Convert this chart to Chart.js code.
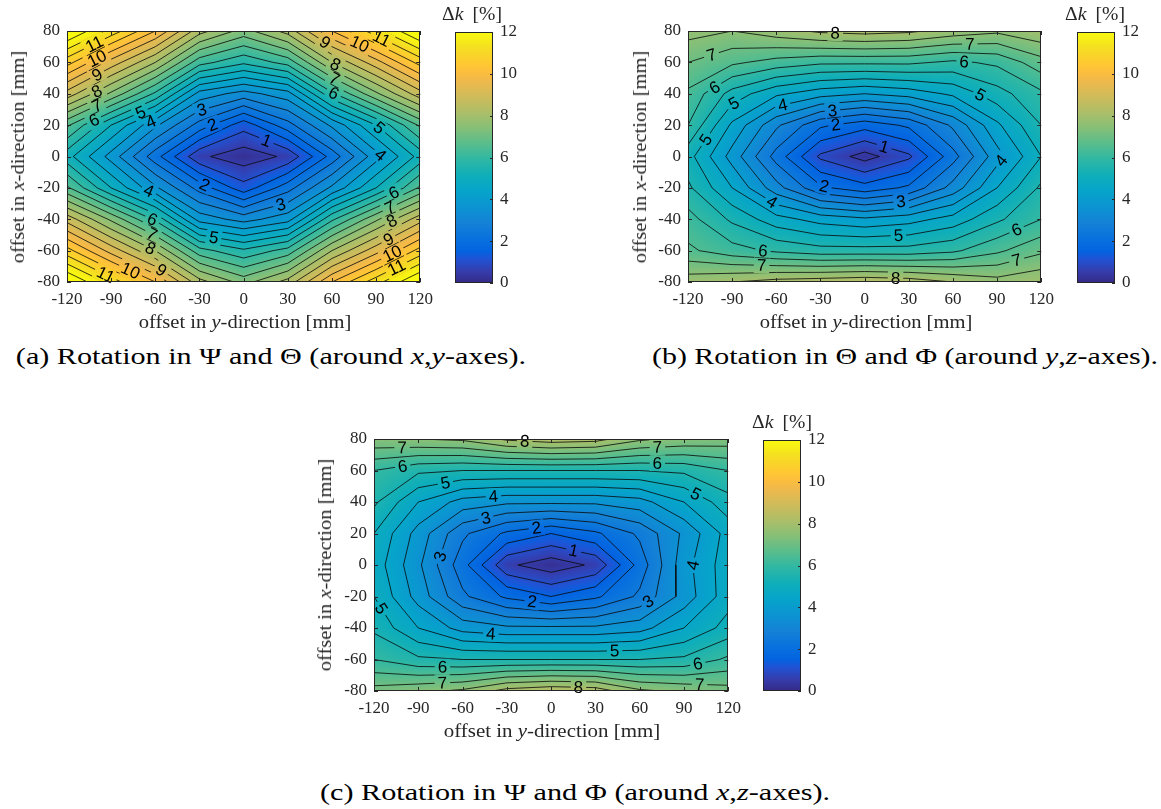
<!DOCTYPE html>
<html>
<head>
<meta charset="utf-8">
<script src="https://cdn.jsdelivr.net/npm/chart.js@4.4.1/dist/chart.umd.min.js"></script>
<style>
  body { margin: 0; background: #fff; width: 1161px; height: 809px; position: relative; overflow: hidden; font-family: "Liberation Serif", serif; }
  canvas { position: absolute; display: block; }
  .txt { position: absolute; white-space: nowrap; color: #262626; font-size: 19px; transform: translate(-50%, -50%); }
  .cb { font-size: 19px; word-spacing: 4px; }
  .cap { position: absolute; white-space: nowrap; color: #000; font-size: 24px; transform: translate(-50%, -50%); }
</style>
</head>
<body>

<canvas id="plotA" width="440" height="340" style="left:0px;top:0px"></canvas>
<canvas id="barA" width="90" height="291" style="left:445px;top:12px"></canvas>
<canvas id="plotB" width="440" height="340" style="left:621px;top:0px"></canvas>
<canvas id="barB" width="90" height="291" style="left:1067px;top:12px"></canvas>
<canvas id="plotC" width="441" height="341" style="left:307px;top:408px"></canvas>
<canvas id="barC" width="90" height="291" style="left:753px;top:420px"></canvas>

<div class="txt" data-w="212" style="left:245px;top:322px">offset in <i>y</i>-direction [mm]</div>
<div class="txt" data-w="212" data-rot="1" style="left:18px;top:157px">offset in <i>x</i>-direction [mm]</div>
<div class="txt cb" data-w="60" style="left:472px;top:14px">Δ<i>k</i> [%]</div>
<div class="txt" data-w="212" style="left:866px;top:322px">offset in <i>y</i>-direction [mm]</div>
<div class="txt" data-w="212" data-rot="1" style="left:640px;top:157px">offset in <i>x</i>-direction [mm]</div>
<div class="txt cb" data-w="60" style="left:1095px;top:14px">Δ<i>k</i> [%]</div>
<div class="txt" data-w="216" style="left:552px;top:731px">offset in <i>y</i>-direction [mm]</div>
<div class="txt" data-w="212" data-rot="1" style="left:325px;top:565px">offset in <i>x</i>-direction [mm]</div>
<div class="txt cb" data-w="60" style="left:782px;top:422px">Δ<i>k</i> [%]</div>

<div class="cap" data-w="510" style="left:271px;top:356px">(a) Rotation in Ψ and Θ (around <i>x</i>,<i>y</i>-axes).</div>
<div class="cap" data-w="506" style="left:905px;top:356px">(b) Rotation in Θ and Φ (around <i>y</i>,<i>z</i>-axes).</div>
<div class="cap" data-w="510" style="left:575px;top:792px">(c) Rotation in Ψ and Φ (around <i>x</i>,<i>z</i>-axes).</div>

<script>
// grid of the measurement: columns = offset in y, rows = offset in x (top row first)
const yOffsets = [-120, -90, -60, -30, 0, 30, 60, 90, 120];
const xOffsets = [80, 60, 40, 20, 0, -20, -40, -60, -80];

const yTicks = [-120, -90, -60, -30, 0, 30, 60, 90, 120];
const xTicks = [-80, -60, -40, -20, 0, 20, 40, 60, 80];
const cbarTicks = [0, 2, 4, 6, 8, 10, 12];
const contourLevels = [0.5, 1, 1.5, 2, 2.5, 3, 3.5, 4, 4.5, 5, 5.5, 6, 6.5, 7, 7.5, 8, 8.5, 9, 9.5, 10, 10.5, 11, 11.5, 12];

// Δk [%] for rotation in Psi and Theta
const dkA = [
  [12.6, 11.3, 10.0, 8.2, 7.3, 8.2, 10.0, 11.3, 12.6],
  [10.7,  9.3,  8.0, 6.2, 5.6, 6.2,  8.0,  9.3, 10.7],
  [ 8.8,  7.4,  5.9, 3.8, 3.3, 3.8,  5.9,  7.4,  8.8],
  [ 6.6,  5.0,  3.6, 2.3, 1.2, 2.3,  3.6,  5.0,  6.6],
  [ 5.2,  3.8,  2.2, 0.6, 0.2, 0.6,  2.2,  3.8,  5.2],
  [ 6.6,  5.0,  3.6, 2.3, 1.2, 2.3,  3.6,  5.0,  6.6],
  [ 8.8,  7.4,  5.9, 3.8, 3.3, 3.8,  5.9,  7.4,  8.8],
  [10.7,  9.3,  8.0, 6.2, 5.6, 6.2,  8.0,  9.3, 10.7],
  [12.6, 11.3, 10.0, 8.2, 7.3, 8.2, 10.0, 11.3, 12.6]
];

// Δk [%] for rotation in Theta and Phi
const dkB = [
  [7.7, 7.5, 7.8, 8.1, 8.2, 8.1, 7.8, 7.6, 7.9],
  [7.0, 6.6, 6.3, 6.1, 6.1, 6.1, 5.9, 6.1, 6.8],
  [6.4, 5.3, 4.6, 4.2, 4.0, 4.2, 4.6, 5.3, 5.9],
  [6.0, 4.4, 3.1, 2.1, 1.7, 2.1, 3.1, 4.4, 5.5],
  [5.2, 3.8, 2.3, 0.9, 0.3, 0.9, 2.3, 3.8, 5.0],
  [5.6, 4.5, 3.2, 2.1, 1.7, 2.1, 3.2, 4.5, 5.6],
  [6.2, 5.4, 4.7, 4.3, 4.1, 4.3, 4.7, 5.4, 6.0],
  [6.6, 6.2, 5.9, 5.7, 5.7, 5.7, 5.9, 6.4, 6.9],
  [7.8, 8.0, 8.2, 8.3, 8.4, 8.3, 8.0, 7.7, 7.9]
];

// Δk [%] for rotation in Psi and Phi
const dkC = [
  [7.4, 7.5, 7.6, 8.1, 8.3, 8.2, 7.6, 7.4, 7.3],
  [6.0, 5.6, 5.5, 5.5, 5.5, 5.5, 5.5, 5.6, 6.0],
  [5.6, 4.5, 3.8, 3.6, 3.6, 3.6, 3.8, 4.5, 5.3],
  [5.0, 3.8, 2.6, 1.9, 1.5, 1.9, 2.6, 3.6, 4.7],
  [4.8, 3.6, 2.2, 0.6, 0.2, 0.6, 2.2, 3.8, 4.8],
  [5.0, 3.8, 2.6, 1.9, 1.5, 1.9, 2.6, 3.7, 4.8],
  [5.4, 4.5, 3.8, 3.6, 3.6, 3.6, 3.8, 4.5, 5.2],
  [6.0, 5.6, 5.5, 5.5, 5.5, 5.5, 5.5, 5.6, 6.1],
  [7.2, 7.4, 7.6, 8.2, 8.4, 8.3, 7.6, 7.4, 7.2]
];

// contour labels: [level, near y-offset, near x-offset]
const labelsA = [
  [11, -100, 69], [10, -100, 63], [9, -100, 53], [8, -100, 42], [7, -100, 33], [6, -101, 22],
  [5, -69, 26], [4, -63, 22], [3, -28, 28], [2, -21, 20], [1, 15, 9],
  [9, 54, 71], [10, 78, 70], [11, 92, 72], [8, 63, 60], [7, 62, 50], [6, 61, 40], [5, 90, 16], [4, 92, 0],
  [4, -64, -21], [2, -26, -17], [6, -62, -40], [7, -63, -51], [8, -64, -60], [9, -55, -71], [10, -76, -71], [11, -93, -74],
  [5, -20, -50], [3, 25, -30], [6, 101, -21], [7, 99, -32], [8, 100, -40], [9, 98, -52], [10, 100, -60], [11, 102, -67]
];
const labelsB = [
  [8, -20, 77], [7, -103, 61.5], [6, -103, 45.6], [5, -90, 36], [5, -110, 12], [4, -56, 34], [3, -22, 31], [2, -19.5, 20],
  [7, 71.5, 70], [6, 67.5, 59], [5, 79.6, 41], [1, 14, 8.6], [4, 92, -2],
  [2, -27.6, -19], [4, -65, -32], [6, -69, -60], [7, -70, -70],
  [3, 25, -32], [5, 23, -52], [8, 21, -77], [6, 102.5, -45], [7, 102.5, -63]
];
const labelsC = [
  [7, -101, 76], [8, -18, 76], [6, -101, 65], [5, -72, 54], [4, -39, 42.5], [3, -45, 33], [3, -74, 5], [2, -10, 23.5],
  [7, 72, 74], [6, 72, 65], [5, 100.5, 49.5], [1, 15, 8], [4, 94.5, 0],
  [5, -114, -27], [2, -13, -24], [3, 67, -25], [4, -41, -46], [5, 43, -54],
  [6, -73.6, -65], [6, 100.5, -68], [7, -73.6, -76], [7, 100.5, -77], [8, 18.5, -78]
];

// parula colormap, [t, r, g, b]
const parula = [
  [0, 53, 42, 135], [0.0476, 53, 61, 173], [0.0952, 32, 83, 212], [0.127, 3, 99, 225],
  [0.1746, 8, 113, 222], [0.238, 20, 129, 214], [0.3016, 12, 147, 210], [0.365, 6, 164, 202],
  [0.4286, 15, 174, 185], [0.492, 46, 183, 164], [0.5556, 89, 189, 140], [0.619, 135, 191, 119],
  [0.6825, 174, 190, 103], [0.746, 209, 187, 89], [0.8095, 241, 185, 74], [0.8413, 253, 190, 61],
  [0.873, 254, 200, 50], [0.9365, 245, 222, 33], [1, 249, 251, 14]
];
const CMAX = 12;
const axisColor = '#262626';
const tickFont = { family: 'Liberation Serif', size: 17 };
const labelFont = '17px "Liberation Sans", Arial, sans-serif';

// widen the serif texts a little so they take the width of the original typesetting
document.querySelectorAll('[data-w]').forEach(el => {
  const r = Math.max(1, +el.dataset.w / el.offsetWidth).toFixed(3);
  el.style.transform = el.dataset.rot
    ? `translate(-50%, -50%) rotate(-90deg) scaleX(${r})`
    : `translate(-50%, -50%) scaleX(${r})`;
});

function colorAt(v) {
  let t = Math.max(0, Math.min(1, v / CMAX));
  for (let i = 0; i < parula.length - 1; i++) {
    const a = parula[i], b = parula[i + 1];
    if (t <= b[0]) {
      const f = (t - a[0]) / (b[0] - a[0]);
      return [a[1] + f * (b[1] - a[1]), a[2] + f * (b[2] - a[2]), a[3] + f * (b[3] - a[3])];
    }
  }
  const l = parula[parula.length - 1];
  return [l[1], l[2], l[3]];
}

function locate(arr, v) {
  const lo = Math.min(arr[0], arr[arr.length - 1]), hi = Math.max(arr[0], arr[arr.length - 1]);
  v = Math.max(lo, Math.min(hi, v));
  for (let i = 0; i < arr.length - 2; i++) {
    const a = arr[i], b = arr[i + 1];
    if (v >= Math.min(a, b) && v <= Math.max(a, b)) return [i, (v - a) / (b - a)];
  }
  const n = arr.length - 2;
  return [n, (v - arr[n]) / (arr[n + 1] - arr[n])];
}

function sample(grid, yv, xv) {
  const [i, t] = locate(yOffsets, yv);
  const [j, u] = locate(xOffsets, xv);
  return (1 - t) * (1 - u) * grid[j][i] + t * (1 - u) * grid[j][i + 1] +
         (1 - t) * u * grid[j + 1][i] + t * u * grid[j + 1][i + 1];
}

// marching squares, straight segments between edge crossings
function contourSegments(grid, level) {
  const segs = [];
  for (let j = 0; j < xOffsets.length - 1; j++) {
    for (let i = 0; i < yOffsets.length - 1; i++) {
      const c = [[i, j], [i + 1, j], [i + 1, j + 1], [i, j + 1]].map(([a, b]) => ({ x: yOffsets[a], y: xOffsets[b], v: grid[b][a] }));
      const cross = [];
      for (let e = 0; e < 4; e++) {
        const p = c[e], q = c[(e + 1) % 4];
        if ((p.v >= level) !== (q.v >= level)) {
          const f = (level - p.v) / (q.v - p.v);
          cross.push({ x: p.x + f * (q.x - p.x), y: p.y + f * (q.y - p.y) });
        }
      }
      if (cross.length === 2) {
        segs.push([cross[0], cross[1]]);
      } else if (cross.length === 4) {
        const centre = (c[0].v + c[1].v + c[2].v + c[3].v) / 4;
        if ((centre >= level) === (c[0].v >= level)) {
          segs.push([cross[0], cross[1]]);
          segs.push([cross[2], cross[3]]);
        } else {
          segs.push([cross[3], cross[0]]);
          segs.push([cross[1], cross[2]]);
        }
      }
    }
  }
  return segs;
}

function placeLabels(chart, segsByLevel, labels) {
  const sx = chart.scales.x, sy = chart.scales.y;
  const ctx = chart.ctx;
  ctx.font = labelFont;
  return labels.map(([lv, yv, xv]) => {
    const ax = sx.getPixelForValue(yv), ay = sy.getPixelForValue(xv);
    let best = null;
    (segsByLevel[lv] || []).forEach(([p, q]) => {
      const px = sx.getPixelForValue(p.x), py = sy.getPixelForValue(p.y);
      const qx = sx.getPixelForValue(q.x), qy = sy.getPixelForValue(q.y);
      const dx = qx - px, dy = qy - py;
      const len2 = dx * dx + dy * dy || 1;
      const f = Math.max(0, Math.min(1, ((ax - px) * dx + (ay - py) * dy) / len2));
      const cx = px + f * dx, cy = py + f * dy;
      const d = (cx - ax) ** 2 + (cy - ay) ** 2;
      if (!best || d < best.d) {
        let ang = Math.atan2(dy, dx);
        if (ang > Math.PI / 2) ang -= Math.PI;
        if (ang < -Math.PI / 2) ang += Math.PI;
        best = { d, x: cx, y: cy, ang };
      }
    });
    if (!best) best = { x: ax, y: ay, ang: 0 };
    const text = String(lv);
    return { text, x: best.x, y: best.y, ang: best.ang, w: ctx.measureText(text).width + 6, h: 16 };
  });
}

const contourPlugin = {
  id: 'contourField',
  beforeDatasetsDraw(chart) {
    const cfg = chart.config.options.plugins.contourField;
    const { left, top, right, bottom } = chart.chartArea;
    const sx = chart.scales.x, sy = chart.scales.y;
    const w = Math.round(right - left), h = Math.round(bottom - top);
    const off = document.createElement('canvas');
    off.width = w; off.height = h;
    const octx = off.getContext('2d');
    const img = octx.createImageData(w, h);
    for (let py = 0; py < h; py++) {
      const xv = sy.getValueForPixel(top + py + 0.5);
      for (let px = 0; px < w; px++) {
        const yv = sx.getValueForPixel(left + px + 0.5);
        const c = colorAt(sample(cfg.grid, yv, xv));
        const k = (py * w + px) * 4;
        img.data[k] = c[0]; img.data[k + 1] = c[1]; img.data[k + 2] = c[2]; img.data[k + 3] = 255;
      }
    }
    octx.putImageData(img, 0, 0);
    chart.ctx.drawImage(off, left, top);

    // leave gaps in the contour lines where the labels go
    cfg.placed = placeLabels(chart, cfg.segsByLevel, cfg.labels);
    const ctx = chart.ctx;
    ctx.save();
    ctx.beginPath();
    ctx.rect(left, top, right - left, bottom - top);
    cfg.placed.forEach(l => {
      const ca = Math.cos(l.ang), sa = Math.sin(l.ang);
      const pts = [[-l.w / 2, -l.h / 2], [l.w / 2, -l.h / 2], [l.w / 2, l.h / 2], [-l.w / 2, l.h / 2]]
        .map(([u, v]) => [l.x + u * ca - v * sa, l.y + u * sa + v * ca]);
      ctx.moveTo(pts[0][0], pts[0][1]);
      pts.slice(1).forEach(p => ctx.lineTo(p[0], p[1]));
      ctx.closePath();
    });
    ctx.clip('evenodd');
  },
  afterDatasetsDraw(chart) {
    const cfg = chart.config.options.plugins.contourField;
    const ctx = chart.ctx;
    ctx.restore();
    const { left, top, right, bottom } = chart.chartArea;

    ctx.save();
    ctx.fillStyle = '#000';
    ctx.font = labelFont;
    ctx.textAlign = 'center';
    ctx.textBaseline = 'middle';
    cfg.placed.forEach(l => {
      ctx.save();
      ctx.translate(l.x, l.y);
      ctx.rotate(l.ang);
      ctx.fillText(l.text, 0, 1);
      ctx.restore();
    });
    ctx.restore();

    // box and inward ticks
    const sx = chart.scales.x, sy = chart.scales.y;
    ctx.save();
    ctx.strokeStyle = axisColor;
    ctx.lineWidth = 1;
    ctx.beginPath();
    yTicks.forEach(v => {
      const p = Math.round(sx.getPixelForValue(v)) + 0.5;
      ctx.moveTo(p, bottom); ctx.lineTo(p, bottom - 4);
      ctx.moveTo(p, top); ctx.lineTo(p, top + 4);
    });
    xTicks.forEach(v => {
      const p = Math.round(sy.getPixelForValue(v)) + 0.5;
      ctx.moveTo(left, p); ctx.lineTo(left + 4, p);
      ctx.moveTo(right, p); ctx.lineTo(right - 4, p);
    });
    ctx.stroke();
    ctx.strokeRect(Math.round(left) + 0.5, Math.round(top) + 0.5, Math.round(right - left) - 1, Math.round(bottom - top) - 1);
    ctx.restore();
  }
};

function makePlot(id, grid, labels) {
  const segsByLevel = {};
  const lineData = [];
  contourLevels.forEach(lv => {
    const segs = contourSegments(grid, lv);
    segsByLevel[lv] = segs;
    segs.forEach(([p, q]) => {
      lineData.push({ x: p.x, y: p.y }, { x: q.x, y: q.y }, { x: NaN, y: NaN });
    });
  });

  return new Chart(document.getElementById(id), {
    type: 'scatter',
    data: {
      datasets: [{
        label: 'contours',
        data: lineData,
        showLine: true,
        spanGaps: false,
        borderColor: 'rgba(10,10,10,0.9)',
        borderWidth: 0.9,
        pointRadius: 0,
        tension: 0
      }]
    },
    options: {
      responsive: false,
      animation: false,
      events: [],
      layout: { padding: { left: 8, top: 31, right: 17, bottom: 8 } },
      plugins: {
        legend: { display: false },
        tooltip: { enabled: false },
        contourField: { grid, labels, segsByLevel }
      },
      scales: {
        x: {
          type: 'linear', min: -120, max: 120,
          afterBuildTicks: s => { s.ticks = yTicks.map(v => ({ value: v })); },
          afterFit: s => { s.height = 50; },
          grid: { display: false, drawTicks: false, tickLength: 0 },
          border: { display: false },
          ticks: { font: tickFont, color: axisColor, padding: 7, maxRotation: 0, autoSkip: false }
        },
        y: {
          type: 'linear', min: -80, max: 80,
          afterBuildTicks: s => { s.ticks = xTicks.map(v => ({ value: v })); },
          afterFit: s => { s.width = 59; },
          grid: { display: false, drawTicks: false, tickLength: 0 },
          border: { display: false },
          ticks: { font: tickFont, color: axisColor, padding: 7, autoSkip: false }
        }
      }
    },
    plugins: [contourPlugin]
  });
}

const cbarPlugin = {
  id: 'cbarFrame',
  afterDatasetsDraw(chart) {
    const { left, top, right, bottom } = chart.chartArea;
    const sy = chart.scales.y;
    const ctx = chart.ctx;
    ctx.save();
    ctx.strokeStyle = axisColor;
    ctx.lineWidth = 1;
    ctx.beginPath();
    cbarTicks.forEach(v => {
      const p = Math.round(sy.getPixelForValue(v)) + 0.5;
      ctx.moveTo(right, p); ctx.lineTo(right - 3, p);
    });
    ctx.stroke();
    ctx.strokeRect(Math.round(left) + 0.5, Math.round(top) + 0.5, Math.round(right - left) - 1, Math.round(bottom - top) - 1);
    ctx.restore();
  }
};

function makeColorbar(id) {
  return new Chart(document.getElementById(id), {
    type: 'bar',
    data: {
      labels: ['Δk'],
      datasets: [{
        data: [[0, CMAX]],
        barPercentage: 1,
        categoryPercentage: 1,
        borderWidth: 0,
        backgroundColor: (c) => {
          const ca = c.chart.chartArea;
          if (!ca) return '#888';
          const g = c.chart.ctx.createLinearGradient(0, ca.bottom, 0, ca.top);
          parula.forEach(s => g.addColorStop(s[0], `rgb(${s[1]},${s[2]},${s[3]})`));
          return g;
        }
      }]
    },
    options: {
      responsive: false,
      animation: false,
      events: [],
      layout: { padding: { left: 10, top: 20, right: 0, bottom: 20 } },
      plugins: { legend: { display: false }, tooltip: { enabled: false } },
      scales: {
        x: { display: false },
        y: {
          position: 'right', min: 0, max: CMAX,
          afterBuildTicks: s => { s.ticks = cbarTicks.map(v => ({ value: v })); },
          afterFit: s => { s.width = 42; },
          grid: { display: false, drawTicks: false, tickLength: 0 },
          border: { display: false },
          ticks: { font: tickFont, color: axisColor, padding: 7 }
        }
      }
    },
    plugins: [cbarPlugin]
  });
}

makePlot('plotA', dkA, labelsA);
makePlot('plotB', dkB, labelsB);
makePlot('plotC', dkC, labelsC);
makeColorbar('barA');
makeColorbar('barB');
makeColorbar('barC');
</script>
</body>
</html>
